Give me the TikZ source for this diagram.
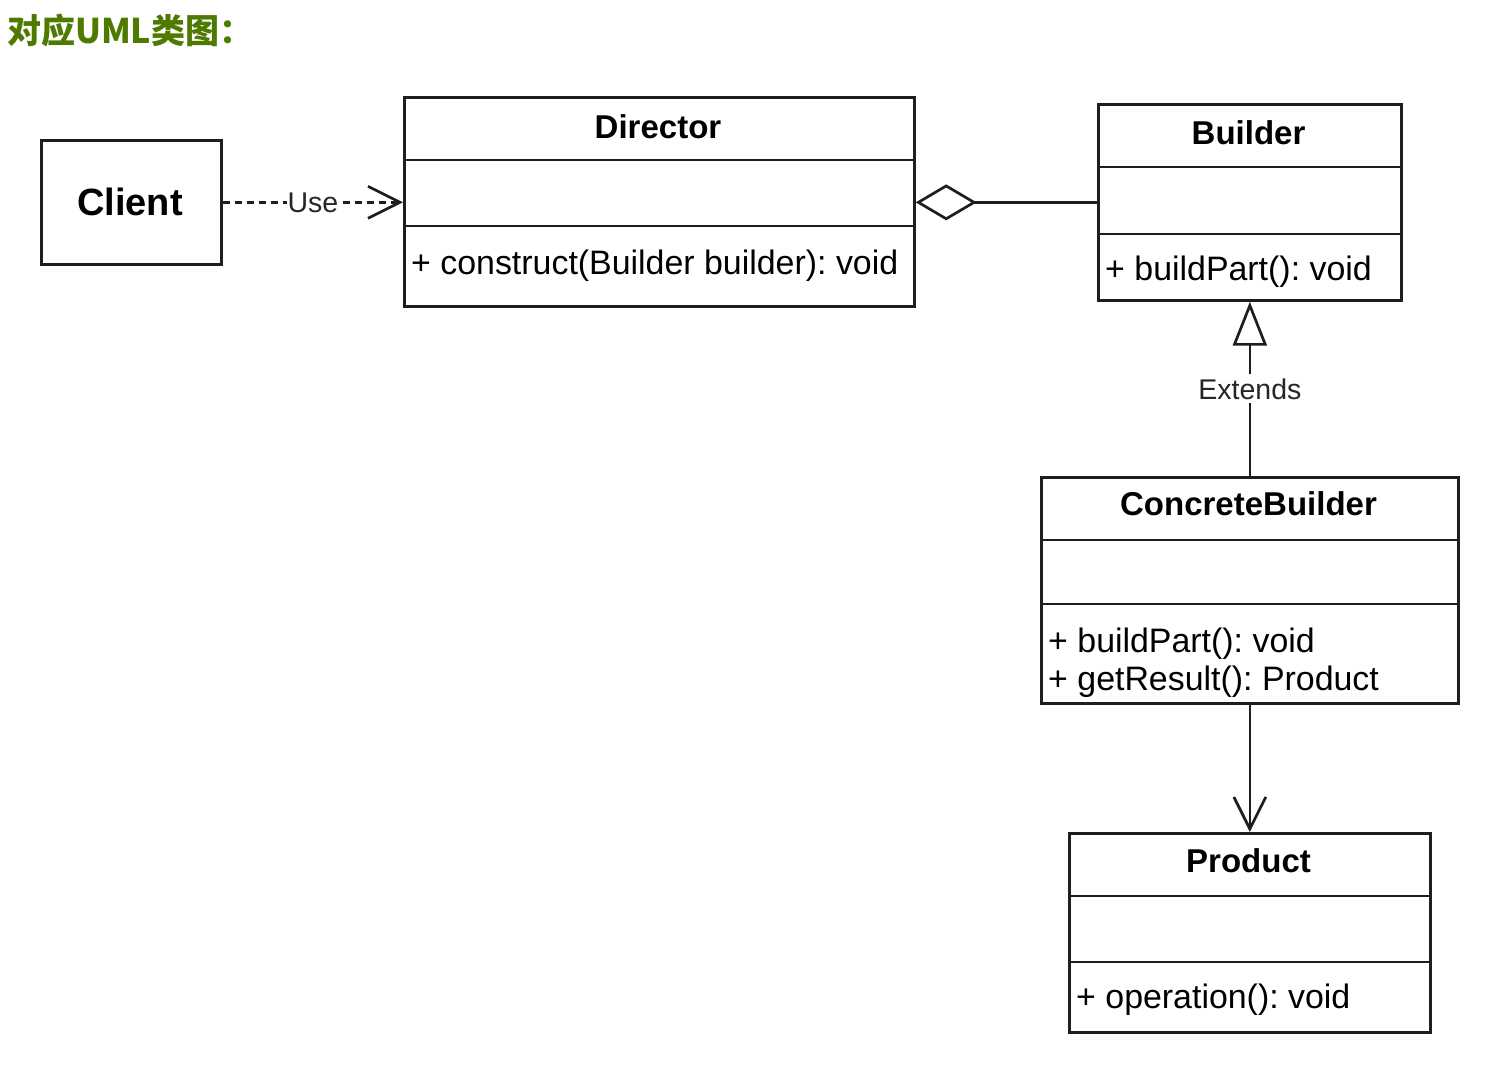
\documentclass[tikz,border=0pt]{standalone}
\usepackage{fontspec}
\setmainfont{Liberation Sans}
\newfontfamily\cjk{Noto Sans CJK SC}
\usetikzlibrary{arrows.meta}
\definecolor{titlegreen}{RGB}{79,122,0}
\definecolor{linegray}{RGB}{30,30,30}
\frenchspacing
\begin{document}
\begin{tikzpicture}[x=1pt,y=-1pt,
  umlbox/.style={draw=linegray,line width=2.7pt,anchor=north west,inner sep=0pt},
  ttext/.style={anchor=base,inner sep=0pt,font=\fontsize{33}{40}\selectfont\bfseries},
  mtext/.style={anchor=base west,inner sep=0pt,font=\fontsize{33.9}{40}\selectfont},
  lbl/.style={inner sep=1pt,fill=white,font=\fontsize{28.5}{34}\selectfont,text=black!85},
  conn/.style={draw=linegray,line width=2.7pt}]
\useasboundingbox (0,0) rectangle (1485,1076);
% title
\node[anchor=base west,inner sep=0pt,text=titlegreen,font=\cjk\bfseries\fontsize{34}{40}\selectfont] (title) at (7,43) {对应UML类图：};
% Client
\node[umlbox,minimum width=180pt,minimum height=124pt] (cl) at (40,139) {};
\node[anchor=base,inner sep=0pt,font=\fontsize{38}{46}\selectfont\bfseries] (clT) at (130,215) {Client};
% Director
\node[umlbox,minimum width=510pt,minimum height=209pt] (dir) at (403,96) {};
\draw[conn] (403,160) -- (913,160);
\draw[conn] (403,226) -- (913,226);
\node[ttext] (dirT) at (658,138) {Director};
\node[mtext] (dirM) at (411,274) {+ construct(Builder builder): void};
% Builder
\node[umlbox,minimum width=303pt,minimum height=196pt] (bld) at (1097,103) {};
\draw[conn] (1097,167) -- (1400,167);
\draw[conn] (1097,234) -- (1400,234);
\node[ttext] (bldT) at (1248.5,144) {Builder};
\node[mtext] (bldM) at (1105,280) {+ buildPart(): void};
% ConcreteBuilder
\node[umlbox,minimum width=417pt,minimum height=226pt] (cb) at (1040,476) {};
\draw[conn] (1040,540) -- (1457,540);
\draw[conn] (1040,604) -- (1457,604);
\node[ttext] (cbT) at (1248.5,515) {ConcreteBuilder};
\node[mtext] (cbM1) at (1048,652) {+ buildPart(): void};
\node[mtext] (cbM2) at (1048,690) {+ getResult(): Product};
% Product
\node[umlbox,minimum width=361pt,minimum height=199pt] (prd) at (1068,832) {};
\draw[conn] (1068,896) -- (1429,896);
\draw[conn] (1068,962) -- (1429,962);
\node[ttext] (prdT) at (1248.5,872) {Product};
\node[mtext] (prdM) at (1076,1008) {+ operation(): void};
% connectors
\draw[conn,dashed,dash pattern=on 7pt off 5pt,-{Straight Barb[length=32pt,width=32pt,line width=2.7pt]}] (cl.east) -- (dir.west |- cl.east)
  node[lbl,pos=0.5] (useL) {Use};
\draw[conn,-{Diamond[open,length=61pt,width=36pt,fill=white]}] (bld.west) -- (dir.east |- bld.west);
\draw[conn,-{Triangle[open,length=44pt,width=34pt,fill=white]}] (cb.north) -- (bld.south)
  node[lbl,pos=0.5,inner sep=4pt] (extL) {Extends};
\draw[conn,-{Straight Barb[length=32pt,width=32pt,line width=2.7pt]}] (cb.south) -- (prd.north);
\end{tikzpicture}
\end{document}
